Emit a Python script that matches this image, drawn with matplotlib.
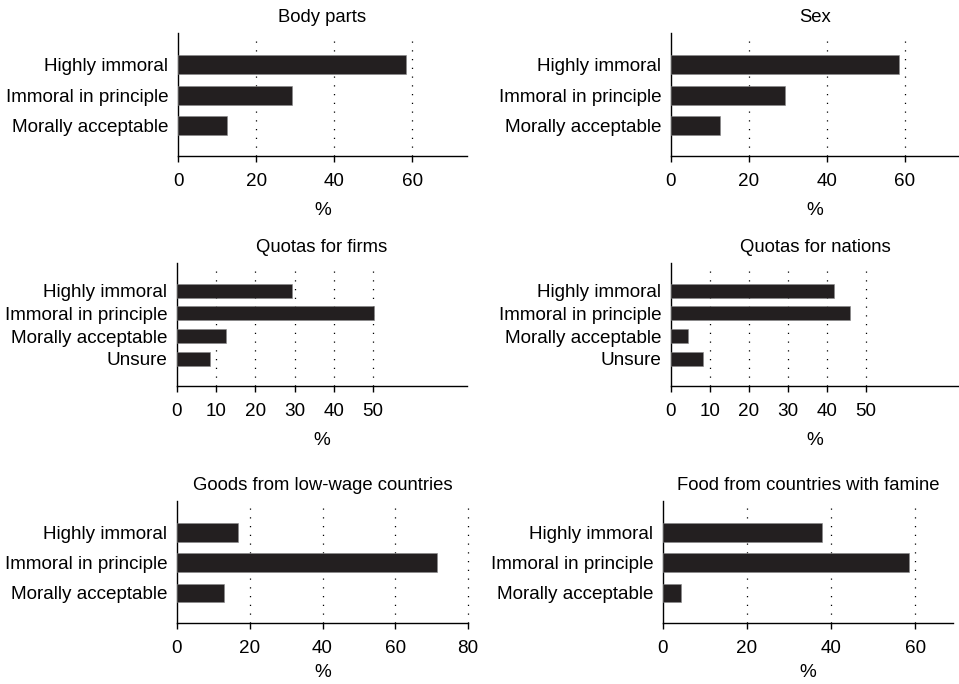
import matplotlib
matplotlib.use("Agg")
import matplotlib.pyplot as plt

plt.rcParams['font.family'] = ['Liberation Sans', 'DejaVu Sans']
plt.rcParams['font.size'] = 13.6

# 数据
cats3 = ['Highly immoral', 'Immoral in principle', 'Morally acceptable']
cats4 = ['Highly immoral', 'Immoral in principle', 'Morally acceptable', 'Unsure']

body_parts = [58.5, 29.3, 12.6]
sex = [58.7, 29.4, 12.6]
quotas_firms = [29.3, 50.2, 12.6, 8.5]
quotas_nations = [41.8, 46.1, 4.4, 8.3]
goods_lowwage = [16.9, 71.4, 12.8]
food_famine = [37.9, 58.5, 4.4]

titles = ['Body parts', 'Sex', 'Quotas for firms', 'Quotas for nations',
          'Goods from low-wage countries', 'Food from countries with famine']
panels = [
    (cats3, body_parts, 20, 74),
    (cats3, sex, 20, 74),
    (cats4, quotas_firms, 10, 74),
    (cats4, quotas_nations, 10, 74),
    (cats3, goods_lowwage, 20, 80),
    (cats3, food_famine, 20, 69),
]

W, H = 959, 684
# 像素位置 (left, top, right, bottom)
boxes = [
    (178, 33, 467, 156),
    (671, 33, 959, 156),
    (177, 263, 467, 386),
    (671, 263, 959, 386),
    (177, 501, 468, 623),
    (663, 501, 953, 623),
]

fig = plt.figure(figsize=(W / 100, H / 100), dpi=100)
for i in range(6):
    l, t, r, b = boxes[i]
    ax = fig.add_axes([l / W, 1 - b / H, (r - l) / W, (b - t) / H])
    cats, vals, step, xmax = panels[i]
    ypos = list(range(len(cats)))
    ax.barh(ypos, vals, height=0.62, color='#231f20', edgecolor='#888888', linewidth=0.4, zorder=3)
    if len(cats) == 4:
        ax.set_ylim(4.2, -1.22)
    else:
        ax.set_ylim(3.0, -1.05)
    ax.set_xlim(0, xmax)
    ticks = list(range(0, int(xmax) + 1, step))
    if step == 10:
        ticks = [0, 10, 20, 30, 40, 50]
    ax.set_xticks(ticks)
    ax.set_yticks(ypos)
    ax.set_yticklabels(cats)
    for tk in ticks[1:]:
        ax.axvline(tk, ymax=0.95, color='black', linestyle=(0, (1, 6)), linewidth=0.9,
                   zorder=1, clip_on=False)
    ax.spines['top'].set_visible(False)
    ax.spines['right'].set_visible(False)
    ax.spines['left'].set_linewidth(1.0)
    ax.spines['bottom'].set_linewidth(1.0)
    ax.tick_params(axis='y', length=0, pad=7)
    ax.tick_params(axis='x', length=4, width=1.0, pad=8)
    # 最下面一行 % 靠近边缘
    ax.set_xlabel('%', labelpad=9 if i < 4 else 5)
    ax.set_title(titles[i], pad=8, fontsize=13.3)

fig.savefig('out.png', dpi=100)
